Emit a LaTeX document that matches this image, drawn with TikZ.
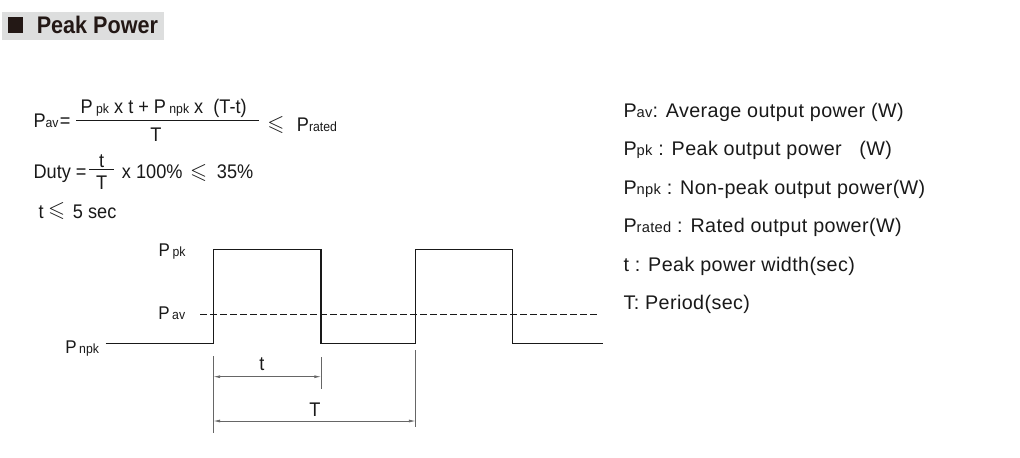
\documentclass[tikz,border=0pt]{standalone}
\usepackage{amssymb}
\usepackage{fontspec}
\setmainfont{Liberation Sans}
\newfontfamily\titlefont[FakeStretch=0.9]{Liberation Sans}
\newfontfamily\formfont[FakeStretch=0.92]{Liberation Sans}
\newfontfamily\listfont[LetterSpace=2]{Liberation Sans}
\usetikzlibrary{arrows.meta}
\definecolor{boxgray}{RGB}{221,222,222}
\definecolor{ink}{RGB}{35,24,21}
\newcommand{\subt}[1]{{\fontsize{10}{10}\selectfont #1}}
\newcommand{\subl}[1]{{\fontsize{11}{11}\selectfont #1}}

\begin{document}
\begin{tikzpicture}[x=0.75pt, y=-0.75pt, inner sep=0pt,
    every node/.style={text=black!90, font=\formfont\fontsize{14.8}{17}\selectfont},
    txt/.style={anchor=base west},
    lab/.style={anchor=base west, font=\formfont\fontsize{13.8}{16}\selectfont},
    leq/.style={font=\fontsize{16.5}{17}\selectfont},
    wave/.style={line width=1.1pt, black!90},
    avg/.style={line width=0.8pt, black!90, dash pattern=on 5pt off 2.5pt},
    dim/.style={line width=0.55pt, black!60},
    dimarrow/.style={dim, {Latex[length=5pt,width=2.2pt]}-{Latex[length=5pt,width=2.2pt]}}]
        \useasboundingbox (0,0) rectangle (1020,457);

        % heading
        \fill[boxgray] (2,12) rectangle (164,40);
        \fill[ink] (7.5,17) rectangle (23,33);
        \node[txt, text=ink] (title) at (36.5,33) {\titlefont\bfseries\fontsize{18}{20}\selectfont Peak Power};

        % formulas
        \node[txt] (pav) at (33.3,127.7) {P\subt{av}\hspace{1pt}=};
        \node[anchor=base] (num) at (163.7,113.3) {P\,\subt{pk} x\ t + P\,\subt{npk} x\ \ (T-t)};
        \node[anchor=base] (den) at (156,141.7) {T};
        \draw[line width=0.75pt, black!90] (76,120.7) -- (259.3,120.7);
        \node[leq] (le1) at (276,124.5) {$\leqslant$};
        \node[txt] (prated) at (296.7,131.5) {P\subt{rated}};

        \node[txt] (duty) at (33.3,178.3) {Duty =};
        \node[anchor=base] (dt) at (101.7,167.7) {t};
        \node[anchor=base] (dT) at (101.7,189.3) {T};
        \draw[line width=0.75pt, black!90] (89,169.5) -- (114.3,169.5);
        \node[txt] (pct) at (121.7,178.3) {x 100\%};
        \node[leq] (le2) at (198.7,173.3) {$\leqslant$};
        \node[txt] (lim) at (216.7,178.3) {35\%};

        \node[txt] (tw) at (38.3,218.3) {t};
        \node[leq] (le3) at (56.7,211) {$\leqslant$};
        \node[txt] (sec) at (72.7,218.3) {5 sec};

        % legend
        \node[txt] (l1) at (623.3,117) {\listfont P\subl{av}: Average output power (W)};
        \node[txt] (l2) at (623.3,155.5) {\listfont P\subl{pk} : Peak output power\ \ \ (W)};
        \node[txt] (l3) at (623.3,194) {\listfont P\subl{npk} : Non-peak output power(W)};
        \node[txt] (l4) at (623.3,232.5) {\listfont P\subl{rated} : Rated output power(W)};
        \node[txt] (l5) at (623.3,271) {\listfont t : Peak power width(sec)};
        \node[txt] (l6) at (623.3,309.5) {\listfont T: Period(sec)};

        % waveform
        \coordinate (w0) at (105.7,343.3);
        \coordinate (r1) at (213.4,343.3);
        \coordinate (f1) at (321,249.3);
        \coordinate (r2) at (415.6,343.3);
        \coordinate (f2) at (512.3,249.3);
        \coordinate (w1) at (603.3,343.3);
        \draw[wave] (w0) -- (r1) |- (f1) |- (r2) |- (f2) |- (w1);
        \coordinate (a0) at (200,314.5);
        \coordinate (a1) at (599.5,314.5);
        \draw[avg] (a0) -- (a1);

        \node[lab] (ppk) at (158.3,256.7) {P\hspace{2pt}\subt{pk}};
        \node[lab] (pavl) at (158,319) {P\hspace{2pt}\subt{av}};
        \node[lab] (pnpk) at (65,353.3) {P\hspace{2pt}\subt{npk}};

        % dimensions
        \coordinate (x1) at (213.4,356);
        \coordinate (x1b) at (213.4,433);
        \coordinate (x2) at (321,357);
        \coordinate (x2b) at (321,388.5);
        \coordinate (x3) at (415.6,350);
        \coordinate (x3b) at (415.6,427);
        \draw[dim] (x1) -- (x1b);
        \draw[dim] (x2) -- (x2b);
        \draw[dim] (x3) -- (x3b);
        \draw[dimarrow] (x1 |- 0,376.7) -- (x2 |- 0,376.7);
        \draw[dimarrow] (x1 |- 0,421) -- (x3 |- 0,421);
        \node[anchor=base] (tlab) at (262,370.3) {t};
        \node[anchor=base] (Tlab) at (315,416.7) {T};
\end{tikzpicture}
\end{document}
